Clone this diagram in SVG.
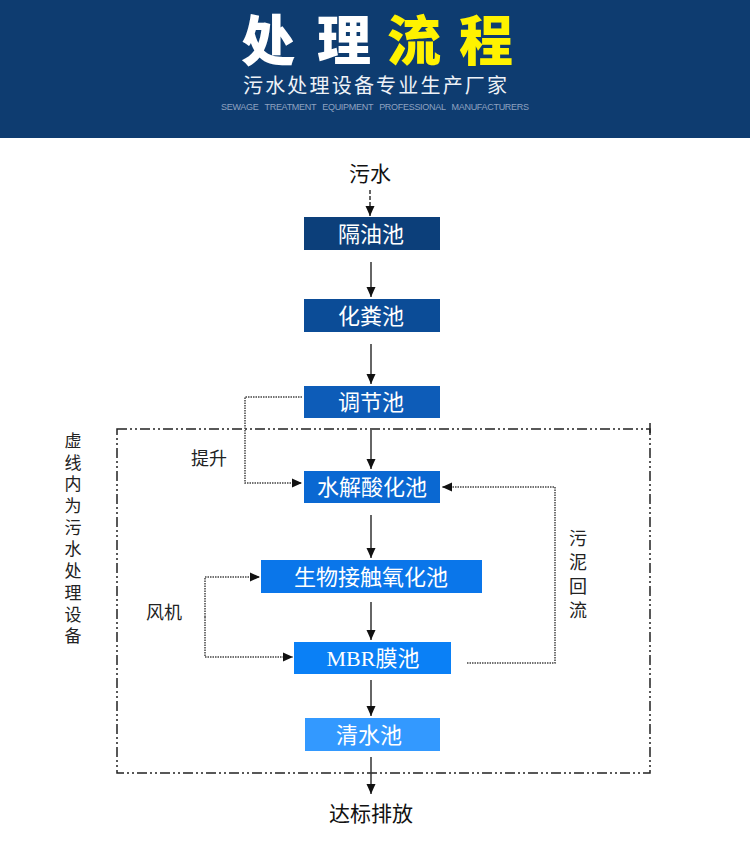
<svg xmlns="http://www.w3.org/2000/svg" width="750" height="847" viewBox="0 0 750 847">
<style>
.title{font-family:"Noto Sans CJK SC",sans-serif;font-size:54px;font-weight:900;text-anchor:middle}
.box-t{font-family:"Liberation Serif","Noto Sans CJK SC",serif;font-size:22px;fill:#fff;text-anchor:middle}
.lbl{font-family:"Noto Sans CJK SC",sans-serif;font-size:18px;fill:#222;text-anchor:middle}
.vert{font-family:"Noto Sans CJK SC",sans-serif;fill:#222;writing-mode:vertical-rl}
.big{font-family:"Noto Sans CJK SC",sans-serif;font-size:21px;fill:#111;text-anchor:middle}
.solid{stroke:#333;stroke-width:1.5;fill:none}
.dot{stroke:#444;stroke-width:1.5;stroke-dasharray:1.5 1;fill:none}
</style>
<defs>
<marker id="ah" markerUnits="userSpaceOnUse" markerWidth="10" markerHeight="10" refX="10" refY="5" orient="auto">
<path d="M0,0.5 L10,5 L0,9.5 z" fill="#111"/>
</marker>
</defs>
<g id="header">
<rect x="0" y="0" width="750" height="138" fill="#0e3c70"/>
<text class="title" x="268" y="61" fill="#fff">处</text>
<text class="title" x="344" y="61" fill="#fff">理</text>
<text class="title" x="414" y="61" fill="#fff200">流</text>
<text class="title" x="486" y="61" fill="#fff200">程</text>
<text x="243" y="93" font-family="Noto Sans CJK SC,sans-serif" font-size="20" fill="#eef2f7" textLength="264" lengthAdjust="spacing">污水处理设备专业生产厂家</text>
<text x="221" y="110" font-family="Liberation Sans,sans-serif" font-size="9" fill="#8ea2c0" textLength="308" lengthAdjust="spacing" word-spacing="4">SEWAGE TREATMENT EQUIPMENT PROFESSIONAL MANUFACTURERS</text>
</g>
<g id="frame">
<rect x="117" y="429" width="533" height="344" fill="none" stroke="#222" stroke-width="1.5" stroke-dasharray="10 3 2 3 2 3"/>
<line x1="650" y1="423" x2="650" y2="433" stroke="#222" stroke-width="1.5"/>
</g>
<g id="connectors">
<line x1="370" y1="190" x2="370" y2="216" class="solid" stroke-dasharray="4 2" marker-end="url(#ah)"/>
<line x1="371" y1="262" x2="371" y2="297" class="solid" marker-end="url(#ah)"/>
<line x1="371" y1="344" x2="371" y2="384" class="solid" marker-end="url(#ah)"/>
<line x1="371" y1="430" x2="371" y2="469" class="solid" marker-end="url(#ah)"/>
<line x1="371" y1="515" x2="371" y2="558" class="solid" marker-end="url(#ah)"/>
<line x1="371" y1="602" x2="371" y2="640" class="solid" marker-end="url(#ah)"/>
<line x1="371" y1="680" x2="371" y2="716" class="solid" marker-end="url(#ah)"/>
<line x1="371" y1="757" x2="371" y2="794" class="solid" marker-end="url(#ah)"/>
<path d="M302,397 H245 V483 H302" class="dot" marker-end="url(#ah)"/>
<path d="M467,663 H555 V487 H442" class="dot" marker-end="url(#ah)"/>
<path d="M205,617 V577 H260" class="dot" marker-end="url(#ah)"/>
<path d="M205,617 V657 H293" class="dot" marker-end="url(#ah)"/>
</g>
<g id="n-in"><text class="big" x="370" y="181">污水</text></g>
<g id="n1"><rect x="304" y="217" width="136" height="33" fill="#0c3f7a"/><text class="box-t" x="371" y="241.5">隔油池</text></g>
<g id="n2"><rect x="304" y="299" width="136" height="33" fill="#0b4c97"/><text class="box-t" x="371" y="323.5">化粪池</text></g>
<g id="n3"><rect x="304" y="386" width="136" height="32" fill="#0d5cb8"/><text class="box-t" x="371" y="410">调节池</text></g>
<g id="n4"><rect x="304" y="471" width="136" height="32" fill="#0a68d2"/><text class="box-t" x="372" y="495">水解酸化池</text></g>
<g id="n5"><rect x="261" y="560" width="221" height="33" fill="#0a76ea"/><text class="box-t" x="371" y="584.5">生物接触氧化池</text></g>
<g id="n6"><rect x="294" y="642" width="157" height="32" fill="#0a80f6"/><text class="box-t" x="373" y="666">MBR膜池</text></g>
<g id="n7"><rect x="305" y="718" width="135" height="33" fill="#3399ff"/><text class="box-t" x="369" y="742.5">清水池</text></g>
<g id="n-out"><text class="big" x="371" y="821" font-size="22">达标排放</text></g>
<g id="labels">
<text class="lbl" x="209" y="465">提升</text>
<text class="lbl" x="164" y="619">风机</text>
<text class="vert" x="578" y="529" font-size="18" letter-spacing="6">污泥回流</text>
<text class="vert" x="73" y="432" font-size="17" letter-spacing="4.7">虚线内为污水处理设备</text>
</g>
</svg>
